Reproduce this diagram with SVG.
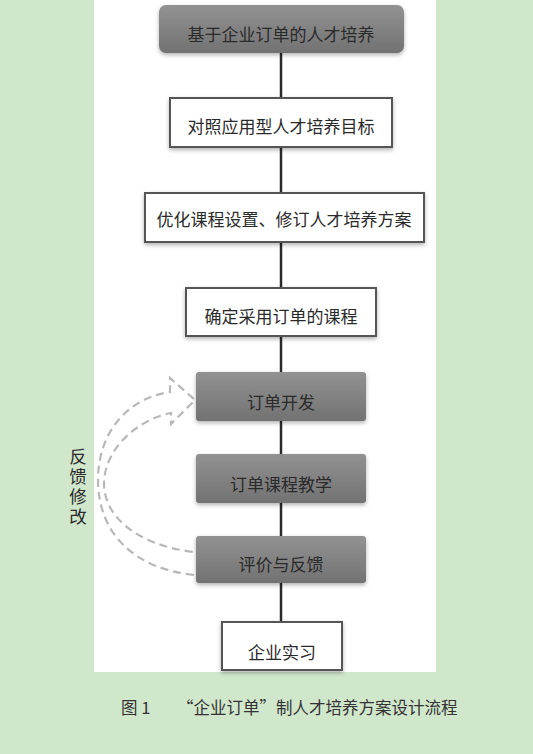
<svg xmlns="http://www.w3.org/2000/svg" width="533" height="754" viewBox="0 0 533 754">
<defs>
<linearGradient id="g" x1="0" y1="0" x2="0" y2="1">
<stop offset="0" stop-color="#929292"/>
<stop offset="1" stop-color="#727272"/>
</linearGradient>
<filter id="sh" x="-10%" y="-20%" width="120%" height="150%">
<feDropShadow dx="0" dy="2" stdDeviation="2" flood-color="#000" flood-opacity="0.3"/>
</filter>
</defs>
<style>
.t{font-family:"Noto Sans CJK SC","Noto Sans",sans-serif;font-size:17px;fill:#2a2a2a;text-anchor:middle;dominant-baseline:central}
.w{fill:#fff;stroke:#555;stroke-width:2}
.d{fill:url(#g);stroke:none}
.c{stroke:#2a2a2a;stroke-width:2.5;fill:none}
.fb{fill:none;stroke:#b8b8b8;stroke-width:2.2;stroke-dasharray:8 5}
.cap{font-family:"Noto Sans CJK SC","Noto Sans",sans-serif;font-size:16.5px;fill:#333;dominant-baseline:central}
</style>
<rect width="533" height="754" fill="#d0e7cc"/>
<rect x="94" y="0" width="342" height="672" fill="#fff"/>
<g id="connectors">
<line class="c" x1="281" y1="53" x2="281" y2="98"/>
<line class="c" x1="281" y1="147" x2="281" y2="193"/>
<line class="c" x1="281" y1="242" x2="281" y2="288"/>
<line class="c" x1="281" y1="336" x2="281" y2="372"/>
<line class="c" x1="281" y1="421" x2="281" y2="454"/>
<line class="c" x1="281" y1="503" x2="281" y2="536"/>
<line class="c" x1="281" y1="583" x2="281" y2="622"/>
</g>
<g id="feedback">
<path class="fb" d="M194,575 C130,568 98,530 98,480 C98,432 128,398 170,392 L170,378 L195,400 L171,424 L171,413 C136,420 104,450 104,484 C104,515 135,545 194,552"/>
<text x="78" y="448" style="font-family:'Noto Sans CJK SC','Noto Sans',sans-serif;font-size:17.5px;fill:#2a2a2a;writing-mode:vertical-rl;letter-spacing:2.5px">反馈修改</text>
</g>
<g id="n1"><rect class="d" x="159" y="5" width="245" height="48" rx="7" filter="url(#sh)"/><text class="t" x="281" y="33">基于企业订单的人才培养</text></g>
<g id="n2"><rect class="w" x="170" y="98" width="222" height="49" filter="url(#sh)"/><text class="t" x="281" y="125">对照应用型人才培养目标</text></g>
<g id="n3"><rect class="w" x="145" y="193" width="279" height="49" filter="url(#sh)"/><text class="t" x="284" y="218">优化课程设置、修订人才培养方案</text></g>
<g id="n4"><rect class="w" x="186" y="288" width="190" height="48" filter="url(#sh)"/><text class="t" x="281" y="315">确定采用订单的课程</text></g>
<g id="n5"><rect class="d" x="196" y="372" width="170" height="49" rx="3" filter="url(#sh)"/><text class="t" x="281" y="401">订单开发</text></g>
<g id="n6"><rect class="d" x="196" y="454" width="170" height="49" rx="3" filter="url(#sh)"/><text class="t" x="281" y="483">订单课程教学</text></g>
<g id="n7"><rect class="d" x="196" y="536" width="170" height="47" rx="3" filter="url(#sh)"/><text class="t" x="281" y="563">评价与反馈</text></g>
<g id="n8"><rect class="w" x="222" y="622" width="120" height="48" filter="url(#sh)"/><text class="t" x="282" y="651">企业实习</text></g>
<text class="cap" x="121" y="707">图 1</text>
<text class="cap" x="177" y="707">“企业订单”制人才培养方案设计流程</text>
</svg>
